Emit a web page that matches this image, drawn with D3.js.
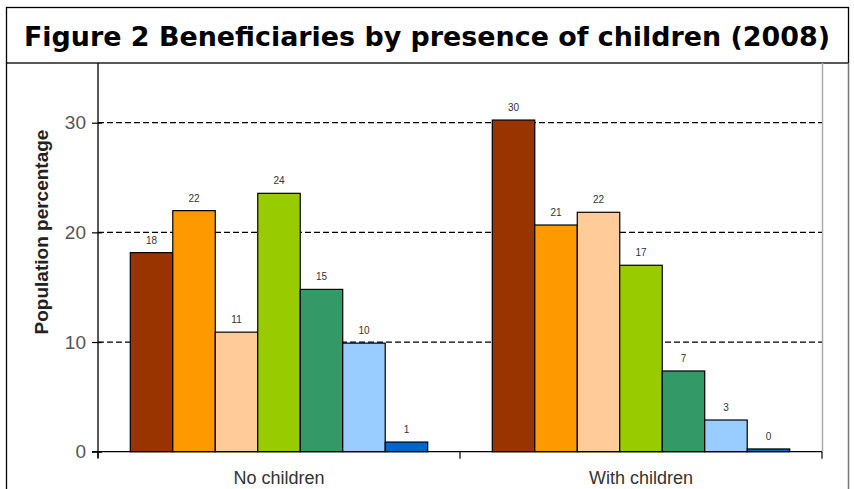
<!DOCTYPE html>
<html><head><meta charset="utf-8">
<script src="https://cdn.jsdelivr.net/npm/d3@7"></script>
<style>body{margin:0;background:#fff}svg{display:block}</style>
</head><body>
<script>
const categories = ["No children", "With children"];
const seriesColors = ["#993300", "#FF9900", "#FFCC99", "#99CC00", "#339966", "#99CCFF", "#0066CC"];
const noChildren = [18.15, 21.98, 10.9, 23.56, 14.8, 9.9, 0.88];
const withChildren = [30.24, 20.67, 21.83, 17.0, 7.36, 2.89, 0.25];
const noChildrenLabels = ["18", "22", "11", "24", "15", "10", "1"];
const withChildrenLabels = ["30", "21", "22", "17", "7", "3", "0"];
const yTicks = [0, 10, 20, 30];
const title = "Figure 2 Beneficiaries by presence of children (2008)";
const yTitle = "Population percentage";

const W = 854, H = 489;
const svg = d3.select("body").append("svg").attr("width", W).attr("height", H);

// title box
svg.append("rect").attr("x", 6.5).attr("y", 7.5).attr("width", 842).attr("height", 55.5)
  .attr("fill", "#fff").attr("stroke", "#000").attr("stroke-width", 1.3);
svg.append("text").attr("x", 427).attr("y", 46).attr("text-anchor", "middle")
  .attr("font-family", "DejaVu Sans, Verdana, sans-serif").attr("font-weight", "bold")
  .attr("font-size", 26).attr("textLength", 806).attr("lengthAdjust", "spacingAndGlyphs")
  .attr("fill", "#000").text(title);

// outer panel sides
svg.append("line").attr("x1", 6.5).attr("x2", 6.5).attr("y1", 63).attr("y2", H).attr("stroke", "#000").attr("stroke-width", 1.3);
svg.append("line").attr("x1", 848.5).attr("x2", 848.5).attr("y1", 63).attr("y2", H).attr("stroke", "#777").attr("stroke-width", 1.5);

const x0 = 98, x1 = 822, yBase = 451.7;
const y = d3.scaleLinear().domain([0, 35]).range([yBase, yBase - 35 * 10.967]);
const xBand = d3.scaleBand().domain(categories).range([x0, x1]).paddingInner(0).paddingOuter(0);
const groupData = [noChildren, withChildren];
const groupLabels = [noChildrenLabels, withChildrenLabels];
const barW = xBand.bandwidth() / (7 + 1.52);
const xInner = d3.scaleBand().domain(d3.range(7)).range([0, barW * 7]).padding(0);

// right grey border of plot area
svg.append("line").attr("x1", x1 + 0.5).attr("x2", x1 + 0.5).attr("y1", 63).attr("y2", yBase).attr("stroke", "#aaa").attr("stroke-width", 1.5);

// gridlines
svg.append("g").selectAll("line").data(yTicks.filter(d => d > 0)).join("line")
  .attr("x1", x0).attr("x2", x1).attr("y1", d => y(d)).attr("y2", d => y(d))
  .attr("stroke", "#000").attr("stroke-width", 1.2).attr("stroke-dasharray", "6,3");

// bars
categories.forEach((c, gi) => {
  const gx = xBand(c) + (xBand.bandwidth() - barW * 7) / 2;
  const g = svg.append("g").attr("transform", `translate(${gx},0)`);
  g.selectAll("rect").data(groupData[gi]).join("rect")
    .attr("x", (d, i) => xInner(i)).attr("y", d => y(d))
    .attr("width", xInner.bandwidth()).attr("height", d => yBase - y(d))
    .attr("fill", (d, i) => seriesColors[i]).attr("stroke", "#000").attr("stroke-width", 1.2);
  g.selectAll("text").data(groupData[gi]).join("text")
    .attr("x", (d, i) => xInner(i) + xInner.bandwidth() / 2).attr("y", d => y(d) - 9)
    .attr("text-anchor", "middle").attr("font-family", "Liberation Sans, Arial, sans-serif")
    .attr("font-size", 10).attr("fill", "#333").text((d, i) => groupLabels[gi][i]);
});

// y axis
const yAxis = d3.axisLeft(y).tickValues(yTicks).tickSize(6).tickSizeOuter(0).tickPadding(6);
const ya = svg.append("g").attr("transform", `translate(${x0},0)`).call(yAxis);
ya.select(".domain").remove();
ya.selectAll(".tick line").attr("stroke", "#000").attr("stroke-width", 1.2).attr("x2", 4).attr("x1", -6);
ya.selectAll(".tick text").attr("font-family", "Liberation Sans, Arial, sans-serif").attr("font-size", 19).attr("fill", "#555");
svg.append("line").attr("x1", x0).attr("x2", x0).attr("y1", 63).attr("y2", yBase + 6).attr("stroke", "#000").attr("stroke-width", 1.3);

// x axis
svg.append("line").attr("x1", x0 - 6).attr("x2", x1).attr("y1", yBase).attr("y2", yBase).attr("stroke", "#000").attr("stroke-width", 1.3);
const xTicks = [x0, xBand(categories[1]), x1];
svg.append("g").selectAll("line").data(xTicks).join("line")
  .attr("x1", d => d).attr("x2", d => d).attr("y1", yBase).attr("y2", yBase + 7).attr("stroke", "#000").attr("stroke-width", 1.2);
svg.append("g").selectAll("text").data(categories).join("text")
  .attr("x", d => xBand(d) + xBand.bandwidth() / 2).attr("y", 484)
  .attr("text-anchor", "middle").attr("font-family", "Liberation Sans, Arial, sans-serif")
  .attr("font-size", 18).attr("fill", "#333").text(d => d);

// y title
svg.append("text").attr("transform", `translate(48,232) rotate(-90)`).attr("text-anchor", "middle")
  .attr("font-family", "Liberation Sans, Arial, sans-serif").attr("font-weight", "bold")
  .attr("font-size", 19).attr("fill", "#222").text(yTitle);
</script>
</body></html>
